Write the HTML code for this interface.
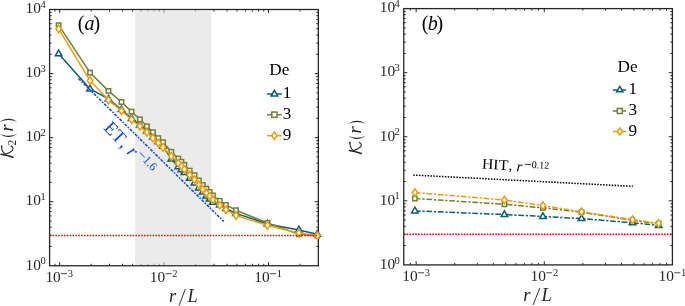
<!DOCTYPE html>
<html><head><meta charset="utf-8"><style>
html,body{margin:0;padding:0;background:#fff;width:685px;height:306px;overflow:hidden}
svg{display:block;will-change:transform}
text{font-family:"Liberation Serif",serif;fill:#262626}
.tl{font-size:15.4px}
.sup{font-size:10.5px}
.lab{font-size:17.5px}
.xl{font-size:18.5px}
.it{font-style:italic}
.par{font-size:19px}
.sub{font-size:11.5px}
.pan{font-size:20px;fill:#000}
.leg{font-size:17.2px;fill:#000}
.et{font-size:18.5px;fill:#0a44ff}
.ets{font-size:12px;fill:#0a44ff}
.hit{font-size:14.6px;fill:#000}
.hitr{font-size:15px;fill:#000}
.hits{font-size:10.2px;fill:#000}
</style></head><body>
<svg width="685" height="306" viewBox="0 0 685 306">
<rect width="685" height="306" fill="#fff"/>
<rect x="135.3" y="9.5" width="75.8" height="256.25" fill="#ebebeb"/>
<rect x="49.6" y="9.5" width="268.75" height="256.25" fill="none" stroke="#262626" stroke-width="1.3"/>
<path d="M54.94 265.75v-2M54.94 9.5v2M59.72 265.75v-3.6M59.72 9.5v3.6M91.15 265.75v-2M91.15 9.5v2M109.53 265.75v-2M109.53 9.5v2M122.58 265.75v-2M122.58 9.5v2M132.7 265.75v-2M132.7 9.5v2M140.96 265.75v-2M140.96 9.5v2M147.95 265.75v-2M147.95 9.5v2M154.01 265.75v-2M154.01 9.5v2M159.35 265.75v-2M159.35 9.5v2M164.13 265.75v-3.6M164.13 9.5v3.6M195.56 265.75v-2M195.56 9.5v2M213.94 265.75v-2M213.94 9.5v2M226.99 265.75v-2M226.99 9.5v2M237.1 265.75v-2M237.1 9.5v2M245.37 265.75v-2M245.37 9.5v2M252.36 265.75v-2M252.36 9.5v2M258.42 265.75v-2M258.42 9.5v2M263.76 265.75v-2M263.76 9.5v2M268.53 265.75v-3.6M268.53 9.5v3.6M299.96 265.75v-2M299.96 9.5v2M49.6 246.47h2M318.35 246.47h-2M49.6 235.18h2M318.35 235.18h-2M49.6 227.18h2M318.35 227.18h-2M49.6 220.97h2M318.35 220.97h-2M49.6 215.9h2M318.35 215.9h-2M49.6 211.61h2M318.35 211.61h-2M49.6 207.9h2M318.35 207.9h-2M49.6 204.62h2M318.35 204.62h-2M49.6 201.69h3.6M318.35 201.69h-3.6M49.6 182.4h2M318.35 182.4h-2M49.6 171.12h2M318.35 171.12h-2M49.6 163.12h2M318.35 163.12h-2M49.6 156.91h2M318.35 156.91h-2M49.6 151.84h2M318.35 151.84h-2M49.6 147.55h2M318.35 147.55h-2M49.6 143.83h2M318.35 143.83h-2M49.6 140.56h2M318.35 140.56h-2M49.6 137.62h3.6M318.35 137.62h-3.6M49.6 118.34h2M318.35 118.34h-2M49.6 107.06h2M318.35 107.06h-2M49.6 99.06h2M318.35 99.06h-2M49.6 92.85h2M318.35 92.85h-2M49.6 87.77h2M318.35 87.77h-2M49.6 83.49h2M318.35 83.49h-2M49.6 79.77h2M318.35 79.77h-2M49.6 76.49h2M318.35 76.49h-2M49.6 73.56h3.6M318.35 73.56h-3.6M49.6 54.28h2M318.35 54.28h-2M49.6 43h2M318.35 43h-2M49.6 34.99h2M318.35 34.99h-2M49.6 28.78h2M318.35 28.78h-2M49.6 23.71h2M318.35 23.71h-2M49.6 19.42h2M318.35 19.42h-2M49.6 15.71h2M318.35 15.71h-2M49.6 12.43h2M318.35 12.43h-2" stroke="#262626" stroke-width="1" fill="none"/>
<rect x="403.75" y="8.6" width="268.65" height="256.3" fill="none" stroke="#262626" stroke-width="1.3"/>
<path d="M410.3 264.9v-2M410.3 8.6v2M416.17 264.9v-3.6M416.17 8.6v3.6M454.73 264.9v-2M454.73 8.6v2M477.29 264.9v-2M477.29 8.6v2M493.3 264.9v-2M493.3 8.6v2M505.72 264.9v-2M505.72 8.6v2M515.86 264.9v-2M515.86 8.6v2M524.44 264.9v-2M524.44 8.6v2M531.87 264.9v-2M531.87 8.6v2M538.42 264.9v-2M538.42 8.6v2M544.28 264.9v-3.6M544.28 8.6v3.6M582.85 264.9v-2M582.85 8.6v2M605.41 264.9v-2M605.41 8.6v2M621.42 264.9v-2M621.42 8.6v2M633.83 264.9v-2M633.83 8.6v2M643.98 264.9v-2M643.98 8.6v2M652.55 264.9v-2M652.55 8.6v2M659.98 264.9v-2M659.98 8.6v2M666.54 264.9v-2M666.54 8.6v2M403.75 245.61h2M672.4 245.61h-2M403.75 234.33h2M672.4 234.33h-2M403.75 226.32h2M672.4 226.32h-2M403.75 220.11h2M672.4 220.11h-2M403.75 215.04h2M672.4 215.04h-2M403.75 210.75h2M672.4 210.75h-2M403.75 207.03h2M672.4 207.03h-2M403.75 203.76h2M672.4 203.76h-2M403.75 200.82h3.6M672.4 200.82h-3.6M403.75 181.54h2M672.4 181.54h-2M403.75 170.25h2M672.4 170.25h-2M403.75 162.25h2M672.4 162.25h-2M403.75 156.04h2M672.4 156.04h-2M403.75 150.96h2M672.4 150.96h-2M403.75 146.68h2M672.4 146.68h-2M403.75 142.96h2M672.4 142.96h-2M403.75 139.68h2M672.4 139.68h-2M403.75 136.75h3.6M672.4 136.75h-3.6M403.75 117.46h2M672.4 117.46h-2M403.75 106.18h2M672.4 106.18h-2M403.75 98.17h2M672.4 98.17h-2M403.75 91.96h2M672.4 91.96h-2M403.75 86.89h2M672.4 86.89h-2M403.75 82.6h2M672.4 82.6h-2M403.75 78.88h2M672.4 78.88h-2M403.75 75.61h2M672.4 75.61h-2M403.75 72.68h3.6M672.4 72.68h-3.6M403.75 53.39h2M672.4 53.39h-2M403.75 42.1h2M672.4 42.1h-2M403.75 34.1h2M672.4 34.1h-2M403.75 27.89h2M672.4 27.89h-2M403.75 22.81h2M672.4 22.81h-2M403.75 18.53h2M672.4 18.53h-2M403.75 14.81h2M672.4 14.81h-2M403.75 11.53h2M672.4 11.53h-2" stroke="#262626" stroke-width="1" fill="none"/>
<rect x="135.3" y="10.15" width="75.8" height="254.95" fill="#ebebeb" fill-opacity="0.55"/>
<polyline points="58.64,53.8 90.07,88.9 108.46,98.9 121.5,109.5 131.62,118.4 139.89,125.1 146.88,131 152.93,136.9 158.27,141.7 163.05,146.2 171.32,159.1 178.31,166.7 181.44,169.7 184.36,172.5 189.7,178.3 194.48,182.9 198.8,187.9 202.75,192.1 206.38,195.9 209.74,199.1 212.87,202.2 219.86,205 225.91,208.6 236.03,213.4 267.46,223.9 298.89,229.9 317.27,234.3" fill="none" stroke="#0c5d75" stroke-width="1.5" stroke-linejoin="round"/>
<path d="M58.64 50.1L61.94 55.8L55.34 55.8Z" fill="#fff" stroke="#0c5d75" stroke-width="1.5"/>
<path d="M90.07 85.2L93.37 90.9L86.77 90.9Z" fill="#fff" stroke="#0c5d75" stroke-width="1.5"/>
<path d="M108.46 95.2L111.76 100.9L105.16 100.9Z" fill="#fff" stroke="#0c5d75" stroke-width="1.5"/>
<path d="M121.5 105.8L124.8 111.5L118.2 111.5Z" fill="#fff" stroke="#0c5d75" stroke-width="1.5"/>
<path d="M131.62 114.7L134.92 120.4L128.32 120.4Z" fill="#fff" stroke="#0c5d75" stroke-width="1.5"/>
<path d="M139.89 121.4L143.19 127.1L136.59 127.1Z" fill="#fff" stroke="#0c5d75" stroke-width="1.5"/>
<path d="M146.88 127.3L150.18 133L143.58 133Z" fill="#fff" stroke="#0c5d75" stroke-width="1.5"/>
<path d="M152.93 133.2L156.23 138.9L149.63 138.9Z" fill="#fff" stroke="#0c5d75" stroke-width="1.5"/>
<path d="M158.27 138L161.57 143.7L154.97 143.7Z" fill="#fff" stroke="#0c5d75" stroke-width="1.5"/>
<path d="M163.05 142.5L166.35 148.2L159.75 148.2Z" fill="#fff" stroke="#0c5d75" stroke-width="1.5"/>
<path d="M171.32 155.4L174.62 161.1L168.02 161.1Z" fill="#fff" stroke="#0c5d75" stroke-width="1.5"/>
<path d="M178.31 163L181.61 168.7L175.01 168.7Z" fill="#fff" stroke="#0c5d75" stroke-width="1.5"/>
<path d="M181.44 166L184.74 171.7L178.14 171.7Z" fill="#fff" stroke="#0c5d75" stroke-width="1.5"/>
<path d="M184.36 168.8L187.66 174.5L181.06 174.5Z" fill="#fff" stroke="#0c5d75" stroke-width="1.5"/>
<path d="M189.7 174.6L193 180.3L186.4 180.3Z" fill="#fff" stroke="#0c5d75" stroke-width="1.5"/>
<path d="M194.48 179.2L197.78 184.9L191.18 184.9Z" fill="#fff" stroke="#0c5d75" stroke-width="1.5"/>
<path d="M198.8 184.2L202.1 189.9L195.5 189.9Z" fill="#fff" stroke="#0c5d75" stroke-width="1.5"/>
<path d="M202.75 188.4L206.05 194.1L199.45 194.1Z" fill="#fff" stroke="#0c5d75" stroke-width="1.5"/>
<path d="M206.38 192.2L209.68 197.9L203.08 197.9Z" fill="#fff" stroke="#0c5d75" stroke-width="1.5"/>
<path d="M209.74 195.4L213.04 201.1L206.44 201.1Z" fill="#fff" stroke="#0c5d75" stroke-width="1.5"/>
<path d="M212.87 198.5L216.17 204.2L209.57 204.2Z" fill="#fff" stroke="#0c5d75" stroke-width="1.5"/>
<path d="M219.86 201.3L223.16 207L216.56 207Z" fill="#fff" stroke="#0c5d75" stroke-width="1.5"/>
<path d="M225.91 204.9L229.21 210.6L222.61 210.6Z" fill="#fff" stroke="#0c5d75" stroke-width="1.5"/>
<path d="M236.03 209.7L239.33 215.4L232.73 215.4Z" fill="#fff" stroke="#0c5d75" stroke-width="1.5"/>
<path d="M267.46 220.2L270.76 225.9L264.16 225.9Z" fill="#fff" stroke="#0c5d75" stroke-width="1.5"/>
<path d="M298.89 226.2L302.19 231.9L295.59 231.9Z" fill="#fff" stroke="#0c5d75" stroke-width="1.5"/>
<path d="M317.27 230.6L320.57 236.3L313.97 236.3Z" fill="#fff" stroke="#0c5d75" stroke-width="1.5"/>
<polyline points="58.64,25.2 90.07,72.7 108.46,90.9 121.5,102 131.62,111.6 139.89,119.3 146.88,126.3 152.93,132.2 158.27,138.1 163.05,142.2 171.32,151.8 178.31,158.6 181.44,161.8 184.36,164.9 189.7,170.6 194.48,175.2 198.8,180.5 202.75,185 206.38,188.7 209.74,192 212.87,195.5 219.86,200.8 225.91,205 236.03,210.2 267.46,223 298.89,234.2 317.27,235.8" fill="none" stroke="#737d36" stroke-width="1.5" stroke-linejoin="round"/>
<rect x="56.44" y="23" width="4.4" height="4.4" fill="#fff" stroke="#737d36" stroke-width="1.5"/>
<rect x="87.87" y="70.5" width="4.4" height="4.4" fill="#fff" stroke="#737d36" stroke-width="1.5"/>
<rect x="106.26" y="88.7" width="4.4" height="4.4" fill="#fff" stroke="#737d36" stroke-width="1.5"/>
<rect x="119.3" y="99.8" width="4.4" height="4.4" fill="#fff" stroke="#737d36" stroke-width="1.5"/>
<rect x="129.42" y="109.4" width="4.4" height="4.4" fill="#fff" stroke="#737d36" stroke-width="1.5"/>
<rect x="137.69" y="117.1" width="4.4" height="4.4" fill="#fff" stroke="#737d36" stroke-width="1.5"/>
<rect x="144.68" y="124.1" width="4.4" height="4.4" fill="#fff" stroke="#737d36" stroke-width="1.5"/>
<rect x="150.73" y="130" width="4.4" height="4.4" fill="#fff" stroke="#737d36" stroke-width="1.5"/>
<rect x="156.07" y="135.9" width="4.4" height="4.4" fill="#fff" stroke="#737d36" stroke-width="1.5"/>
<rect x="160.85" y="140" width="4.4" height="4.4" fill="#fff" stroke="#737d36" stroke-width="1.5"/>
<rect x="169.12" y="149.6" width="4.4" height="4.4" fill="#fff" stroke="#737d36" stroke-width="1.5"/>
<rect x="176.11" y="156.4" width="4.4" height="4.4" fill="#fff" stroke="#737d36" stroke-width="1.5"/>
<rect x="179.24" y="159.6" width="4.4" height="4.4" fill="#fff" stroke="#737d36" stroke-width="1.5"/>
<rect x="182.16" y="162.7" width="4.4" height="4.4" fill="#fff" stroke="#737d36" stroke-width="1.5"/>
<rect x="187.5" y="168.4" width="4.4" height="4.4" fill="#fff" stroke="#737d36" stroke-width="1.5"/>
<rect x="192.28" y="173" width="4.4" height="4.4" fill="#fff" stroke="#737d36" stroke-width="1.5"/>
<rect x="196.6" y="178.3" width="4.4" height="4.4" fill="#fff" stroke="#737d36" stroke-width="1.5"/>
<rect x="200.55" y="182.8" width="4.4" height="4.4" fill="#fff" stroke="#737d36" stroke-width="1.5"/>
<rect x="204.18" y="186.5" width="4.4" height="4.4" fill="#fff" stroke="#737d36" stroke-width="1.5"/>
<rect x="207.54" y="189.8" width="4.4" height="4.4" fill="#fff" stroke="#737d36" stroke-width="1.5"/>
<rect x="210.67" y="193.3" width="4.4" height="4.4" fill="#fff" stroke="#737d36" stroke-width="1.5"/>
<rect x="217.66" y="198.6" width="4.4" height="4.4" fill="#fff" stroke="#737d36" stroke-width="1.5"/>
<rect x="223.71" y="202.8" width="4.4" height="4.4" fill="#fff" stroke="#737d36" stroke-width="1.5"/>
<rect x="233.83" y="208" width="4.4" height="4.4" fill="#fff" stroke="#737d36" stroke-width="1.5"/>
<rect x="265.26" y="220.8" width="4.4" height="4.4" fill="#fff" stroke="#737d36" stroke-width="1.5"/>
<rect x="296.69" y="232" width="4.4" height="4.4" fill="#fff" stroke="#737d36" stroke-width="1.5"/>
<rect x="315.07" y="233.6" width="4.4" height="4.4" fill="#fff" stroke="#737d36" stroke-width="1.5"/>
<polyline points="58.64,28.9 90.07,80.6 108.46,100.1 121.5,110.7 131.62,119.6 139.89,126.3 146.88,132.2 152.93,138.1 158.27,142.9 163.05,147.4 171.32,156.2 178.31,163.1 181.44,166.2 184.36,169.3 189.7,175 194.48,179.5 198.8,184.8 202.75,189.3 206.38,193 209.74,196.2 212.87,199.8 219.86,205.3 225.91,209.8 236.03,215.5 267.46,225.4 298.89,233.1 317.27,235.6" fill="none" stroke="#ec9d0d" stroke-width="1.5" stroke-linejoin="round"/>
<path d="M58.64 25.15L61.34 28.9L58.64 32.65L55.94 28.9Z" fill="#fff" stroke="#ec9d0d" stroke-width="1.5"/>
<path d="M90.07 76.85L92.77 80.6L90.07 84.35L87.37 80.6Z" fill="#fff" stroke="#ec9d0d" stroke-width="1.5"/>
<path d="M108.46 96.35L111.16 100.1L108.46 103.85L105.76 100.1Z" fill="#fff" stroke="#ec9d0d" stroke-width="1.5"/>
<path d="M121.5 106.95L124.2 110.7L121.5 114.45L118.8 110.7Z" fill="#fff" stroke="#ec9d0d" stroke-width="1.5"/>
<path d="M131.62 115.85L134.32 119.6L131.62 123.35L128.92 119.6Z" fill="#fff" stroke="#ec9d0d" stroke-width="1.5"/>
<path d="M139.89 122.55L142.59 126.3L139.89 130.05L137.19 126.3Z" fill="#fff" stroke="#ec9d0d" stroke-width="1.5"/>
<path d="M146.88 128.45L149.58 132.2L146.88 135.95L144.18 132.2Z" fill="#fff" stroke="#ec9d0d" stroke-width="1.5"/>
<path d="M152.93 134.35L155.63 138.1L152.93 141.85L150.23 138.1Z" fill="#fff" stroke="#ec9d0d" stroke-width="1.5"/>
<path d="M158.27 139.15L160.97 142.9L158.27 146.65L155.57 142.9Z" fill="#fff" stroke="#ec9d0d" stroke-width="1.5"/>
<path d="M163.05 143.65L165.75 147.4L163.05 151.15L160.35 147.4Z" fill="#fff" stroke="#ec9d0d" stroke-width="1.5"/>
<path d="M171.32 152.45L174.02 156.2L171.32 159.95L168.62 156.2Z" fill="#fff" stroke="#ec9d0d" stroke-width="1.5"/>
<path d="M178.31 159.35L181.01 163.1L178.31 166.85L175.61 163.1Z" fill="#fff" stroke="#ec9d0d" stroke-width="1.5"/>
<path d="M181.44 162.45L184.14 166.2L181.44 169.95L178.74 166.2Z" fill="#fff" stroke="#ec9d0d" stroke-width="1.5"/>
<path d="M184.36 165.55L187.06 169.3L184.36 173.05L181.66 169.3Z" fill="#fff" stroke="#ec9d0d" stroke-width="1.5"/>
<path d="M189.7 171.25L192.4 175L189.7 178.75L187 175Z" fill="#fff" stroke="#ec9d0d" stroke-width="1.5"/>
<path d="M194.48 175.75L197.18 179.5L194.48 183.25L191.78 179.5Z" fill="#fff" stroke="#ec9d0d" stroke-width="1.5"/>
<path d="M198.8 181.05L201.5 184.8L198.8 188.55L196.1 184.8Z" fill="#fff" stroke="#ec9d0d" stroke-width="1.5"/>
<path d="M202.75 185.55L205.45 189.3L202.75 193.05L200.05 189.3Z" fill="#fff" stroke="#ec9d0d" stroke-width="1.5"/>
<path d="M206.38 189.25L209.08 193L206.38 196.75L203.68 193Z" fill="#fff" stroke="#ec9d0d" stroke-width="1.5"/>
<path d="M209.74 192.45L212.44 196.2L209.74 199.95L207.04 196.2Z" fill="#fff" stroke="#ec9d0d" stroke-width="1.5"/>
<path d="M212.87 196.05L215.57 199.8L212.87 203.55L210.17 199.8Z" fill="#fff" stroke="#ec9d0d" stroke-width="1.5"/>
<path d="M219.86 201.55L222.56 205.3L219.86 209.05L217.16 205.3Z" fill="#fff" stroke="#ec9d0d" stroke-width="1.5"/>
<path d="M225.91 206.05L228.61 209.8L225.91 213.55L223.21 209.8Z" fill="#fff" stroke="#ec9d0d" stroke-width="1.5"/>
<path d="M236.03 211.75L238.73 215.5L236.03 219.25L233.33 215.5Z" fill="#fff" stroke="#ec9d0d" stroke-width="1.5"/>
<path d="M267.46 221.65L270.16 225.4L267.46 229.15L264.76 225.4Z" fill="#fff" stroke="#ec9d0d" stroke-width="1.5"/>
<path d="M298.89 229.35L301.59 233.1L298.89 236.85L296.19 233.1Z" fill="#fff" stroke="#ec9d0d" stroke-width="1.5"/>
<path d="M317.27 231.85L319.97 235.6L317.27 239.35L314.57 235.6Z" fill="#fff" stroke="#ec9d0d" stroke-width="1.5"/>
<line x1="413.2" y1="175.05" x2="632.8" y2="186.3" stroke="#000" stroke-width="1.5" stroke-dasharray="1.5 1.38"/>
<polyline points="414.85,210.9 504.4,214.5 542.96,216.5 581.53,218.6 632.51,222.8 658.66,225.4" fill="none" stroke="#0c5d75" stroke-width="1.5" stroke-linejoin="round" stroke-dasharray="5.8 1.7 2.3 1.7"/>
<path d="M414.85 207.2L418.15 212.9L411.55 212.9Z" fill="#fff" stroke="#0c5d75" stroke-width="1.5"/>
<path d="M504.4 210.8L507.7 216.5L501.1 216.5Z" fill="#fff" stroke="#0c5d75" stroke-width="1.5"/>
<path d="M542.96 212.8L546.26 218.5L539.66 218.5Z" fill="#fff" stroke="#0c5d75" stroke-width="1.5"/>
<path d="M581.53 214.9L584.83 220.6L578.23 220.6Z" fill="#fff" stroke="#0c5d75" stroke-width="1.5"/>
<path d="M632.51 219.1L635.81 224.8L629.21 224.8Z" fill="#fff" stroke="#0c5d75" stroke-width="1.5"/>
<path d="M658.66 221.7L661.96 227.4L655.36 227.4Z" fill="#fff" stroke="#0c5d75" stroke-width="1.5"/>
<polyline points="414.85,198.5 504.4,204.3 542.96,207.9 581.53,212.2 632.51,220.3 658.66,223.6" fill="none" stroke="#737d36" stroke-width="1.5" stroke-linejoin="round" stroke-dasharray="5.8 1.7 2.3 1.7"/>
<rect x="412.65" y="196.3" width="4.4" height="4.4" fill="#fff" stroke="#737d36" stroke-width="1.5"/>
<rect x="502.2" y="202.1" width="4.4" height="4.4" fill="#fff" stroke="#737d36" stroke-width="1.5"/>
<rect x="540.76" y="205.7" width="4.4" height="4.4" fill="#fff" stroke="#737d36" stroke-width="1.5"/>
<rect x="579.33" y="210" width="4.4" height="4.4" fill="#fff" stroke="#737d36" stroke-width="1.5"/>
<rect x="630.31" y="218.1" width="4.4" height="4.4" fill="#fff" stroke="#737d36" stroke-width="1.5"/>
<rect x="656.46" y="221.4" width="4.4" height="4.4" fill="#fff" stroke="#737d36" stroke-width="1.5"/>
<polyline points="414.85,192.5 504.4,200 542.96,205.6 581.53,211.8 632.51,219.6 658.66,223.4" fill="none" stroke="#ec9d0d" stroke-width="1.5" stroke-linejoin="round" stroke-dasharray="5.8 1.7 2.3 1.7"/>
<path d="M414.85 188.75L417.55 192.5L414.85 196.25L412.15 192.5Z" fill="#fff" stroke="#ec9d0d" stroke-width="1.5"/>
<path d="M504.4 196.25L507.1 200L504.4 203.75L501.7 200Z" fill="#fff" stroke="#ec9d0d" stroke-width="1.5"/>
<path d="M542.96 201.85L545.66 205.6L542.96 209.35L540.26 205.6Z" fill="#fff" stroke="#ec9d0d" stroke-width="1.5"/>
<path d="M581.53 208.05L584.23 211.8L581.53 215.55L578.83 211.8Z" fill="#fff" stroke="#ec9d0d" stroke-width="1.5"/>
<path d="M632.51 215.85L635.21 219.6L632.51 223.35L629.81 219.6Z" fill="#fff" stroke="#ec9d0d" stroke-width="1.5"/>
<path d="M658.66 219.65L661.36 223.4L658.66 227.15L655.96 223.4Z" fill="#fff" stroke="#ec9d0d" stroke-width="1.5"/>
<line x1="49.6" y1="235.43" x2="318.35" y2="235.43" stroke="#ff0000" stroke-width="1.5" stroke-dasharray="1.6 1.26"/>
<line x1="403.75" y1="234.33" x2="672.4" y2="234.33" stroke="#ff0000" stroke-width="1.5" stroke-dasharray="1.6 1.26"/>
<line x1="78.5" y1="78.5" x2="223.7" y2="221.4" stroke="#0a44ff" stroke-width="1.5" stroke-dasharray="3 1.3 1.6 1.3"/>
<text x="25.6" y="269.55" class="tl">10</text><text x="40.4" y="264.35" class="sup">0</text>
<text x="379.8" y="268.7" class="tl">10</text><text x="394.6" y="263.5" class="sup">0</text>
<text x="25.6" y="205.49" class="tl">10</text><text x="40.4" y="200.29" class="sup">1</text>
<text x="379.8" y="204.62" class="tl">10</text><text x="394.6" y="199.42" class="sup">1</text>
<text x="25.6" y="141.43" class="tl">10</text><text x="40.4" y="136.22" class="sup">2</text>
<text x="379.8" y="140.55" class="tl">10</text><text x="394.6" y="135.35" class="sup">2</text>
<text x="25.6" y="77.36" class="tl">10</text><text x="40.4" y="72.16" class="sup">3</text>
<text x="379.8" y="76.48" class="tl">10</text><text x="394.6" y="71.28" class="sup">3</text>
<text x="25.6" y="13.3" class="tl">10</text><text x="40.4" y="8.1" class="sup">4</text>
<text x="379.8" y="12.4" class="tl">10</text><text x="394.6" y="7.2" class="sup">4</text>
<text x="45.42" y="282.2" class="tl">10</text><rect x="61.12" y="273.3" width="6.0" height="0.85" fill="#262626"/><text x="67.82" y="276.9" class="sup">3</text>
<text x="402.37" y="281.3" class="tl">10</text><rect x="418.07" y="272.4" width="6.0" height="0.85" fill="#262626"/><text x="424.77" y="276" class="sup">3</text>
<text x="149.83" y="282.2" class="tl">10</text><rect x="165.53" y="273.3" width="6.0" height="0.85" fill="#262626"/><text x="172.23" y="276.9" class="sup">2</text>
<text x="530.48" y="281.3" class="tl">10</text><rect x="546.18" y="272.4" width="6.0" height="0.85" fill="#262626"/><text x="552.88" y="276" class="sup">2</text>
<text x="254.23" y="282.2" class="tl">10</text><rect x="269.93" y="273.3" width="6.0" height="0.85" fill="#262626"/><text x="276.63" y="276.9" class="sup">1</text>
<text x="658.6" y="281.3" class="tl">10</text><rect x="674.3" y="272.4" width="6.0" height="0.85" fill="#262626"/><text x="681" y="276" class="sup">1</text>
<text x="169.1" y="301.6" class="xl it">r</text><line x1="179" y1="305.6" x2="185.4" y2="289" stroke="#262626" stroke-width="0.95"/><text x="187.4" y="301.6" class="xl it">L</text>
<text x="523.2" y="300.6" class="xl it">r</text><line x1="533.1" y1="304.9" x2="539.9" y2="287.9" stroke="#262626" stroke-width="0.95"/><text x="541.5" y="300.6" class="xl it">L</text>
<g transform="translate(13 157.6) rotate(-90)"><g fill="#262626" stroke="#262626" stroke-linecap="round" fill-opacity="1"><g fill="none"><path d="M3.4 -11.9 Q2.3 -5.5 0.4 0" stroke-width="1.6"/><path d="M11.2 -11.5 Q5.8 -11.2 3.3 -7.8 Q4.6 -2.8 7.2 -0.5 Q9.8 1.0 11.5 -2.0" stroke-width="1.1"/><circle fill="#262626" cx="11.3" cy="-11.4" r="0.85" stroke="none"/></g></g><text x="12.0" y="2.6" class="sub">2</text><path d="M24 -13.2 C19.4 -8.3 19.4 -0.4 24 4.4 C21.05 -0.4 21.05 -8.3 24 -13.2Z" fill="#262626"/><text x="26" y="0" class="xl it">r</text><path d="M35.3 -13.2 C39.9 -8.3 39.9 -0.4 35.3 4.4 C38.25 -0.4 38.25 -8.3 35.3 -13.2Z" fill="#262626"/></g>
<g transform="translate(361.3 153.9) rotate(-90)"><g fill="#262626" stroke="#262626" stroke-linecap="round" fill-opacity="1"><g fill="none"><path d="M3.4 -11.9 Q2.3 -5.5 0.4 0" stroke-width="1.6"/><path d="M11.2 -11.5 Q5.8 -11.2 3.3 -7.8 Q4.6 -2.8 7.2 -0.5 Q9.8 1.0 11.5 -2.0" stroke-width="1.1"/><circle fill="#262626" cx="11.3" cy="-11.4" r="0.85" stroke="none"/></g></g><path d="M18.3 -13.2 C13.7 -8.3 13.7 -0.4 18.3 4.4 C15.35 -0.4 15.35 -8.3 18.3 -13.2Z" fill="#262626"/><text x="20.3" y="0" class="xl it">r</text><path d="M29.6 -13.2 C34.2 -8.3 34.2 -0.4 29.6 4.4 C32.55 -0.4 32.55 -8.3 29.6 -13.2Z" fill="#262626"/></g>
<text x="77.7" y="29.5" class="pan">(</text><text x="84.4" y="29.5" class="pan it">a</text><text x="93.4" y="29.5" class="pan">)</text>
<text x="421.7" y="29.9" class="pan">(</text><text x="427.7" y="29.9" class="pan it">b</text><text x="436.4" y="29.9" class="pan">)</text>
<text x="269.3" y="75.4" class="leg">De</text><line x1="267" y1="94" x2="281.8" y2="94" stroke="#0c5d75" stroke-width="1.5"/><path d="M274.4 90.3L277.7 96L271.1 96Z" fill="#fff" stroke="#0c5d75" stroke-width="1.5"/><text x="282.8" y="98" class="leg">1</text><line x1="267" y1="114.7" x2="281.8" y2="114.7" stroke="#737d36" stroke-width="1.5"/><rect x="271.76" y="112.06" width="5.28" height="5.28" fill="#fff" stroke="#737d36" stroke-width="1.5"/><text x="282.8" y="118.7" class="leg">3</text><line x1="267" y1="135.7" x2="281.8" y2="135.7" stroke="#ec9d0d" stroke-width="1.5"/><path d="M274.4 131.95L277.1 135.7L274.4 139.45L271.7 135.7Z" fill="#fff" stroke="#ec9d0d" stroke-width="1.5"/><text x="282.8" y="139.7" class="leg">9</text>
<text x="617.6" y="72.1" class="leg">De</text><line x1="612.9" y1="89.9" x2="627" y2="89.9" stroke="#0c5d75" stroke-width="1.5" stroke-dasharray="4.2 1.6 1.6 1.6"/><path d="M619.8 86.39L622.93 91.8L616.66 91.8Z" fill="#fff" stroke="#0c5d75" stroke-width="1.5"/><text x="628.4" y="94" class="leg">1</text><line x1="612.9" y1="111" x2="627" y2="111" stroke="#737d36" stroke-width="1.5" stroke-dasharray="4.2 1.6 1.6 1.6"/><rect x="617.29" y="108.49" width="5.02" height="5.02" fill="#fff" stroke="#737d36" stroke-width="1.5"/><text x="628.4" y="115.1" class="leg">3</text><line x1="612.9" y1="131.5" x2="627" y2="131.5" stroke="#ec9d0d" stroke-width="1.5" stroke-dasharray="4.2 1.6 1.6 1.6"/><path d="M619.8 127.94L622.37 131.5L619.8 135.06L617.23 131.5Z" fill="#fff" stroke="#ec9d0d" stroke-width="1.5"/><text x="628.4" y="135.6" class="leg">9</text>
<g transform="translate(102.95 128.5) rotate(46.5)"><text x="0" y="0" class="et">ET</text><text x="23.6" y="0" class="et">,</text><text x="33.6" y="0" class="et it">r</text><rect x="42.9" y="-10.75" width="6.9" height="0.8" fill="#0a44ff"/><text x="50.2" y="-6.4" class="ets">1.6</text></g>
<g transform="translate(481.7 168.6) rotate(3)"><text x="0" y="0" class="hit" textLength="26.4" lengthAdjust="spacingAndGlyphs">HIT</text><text x="26.8" y="0" class="hit">,</text><text x="34.6" y="0.9" class="hitr it">r</text><rect x="42.8" y="-7.0" width="6.2" height="0.75" fill="#000"/><text x="49.6" y="-3.3" class="hits">0.12</text></g>
</svg>
</body></html>
